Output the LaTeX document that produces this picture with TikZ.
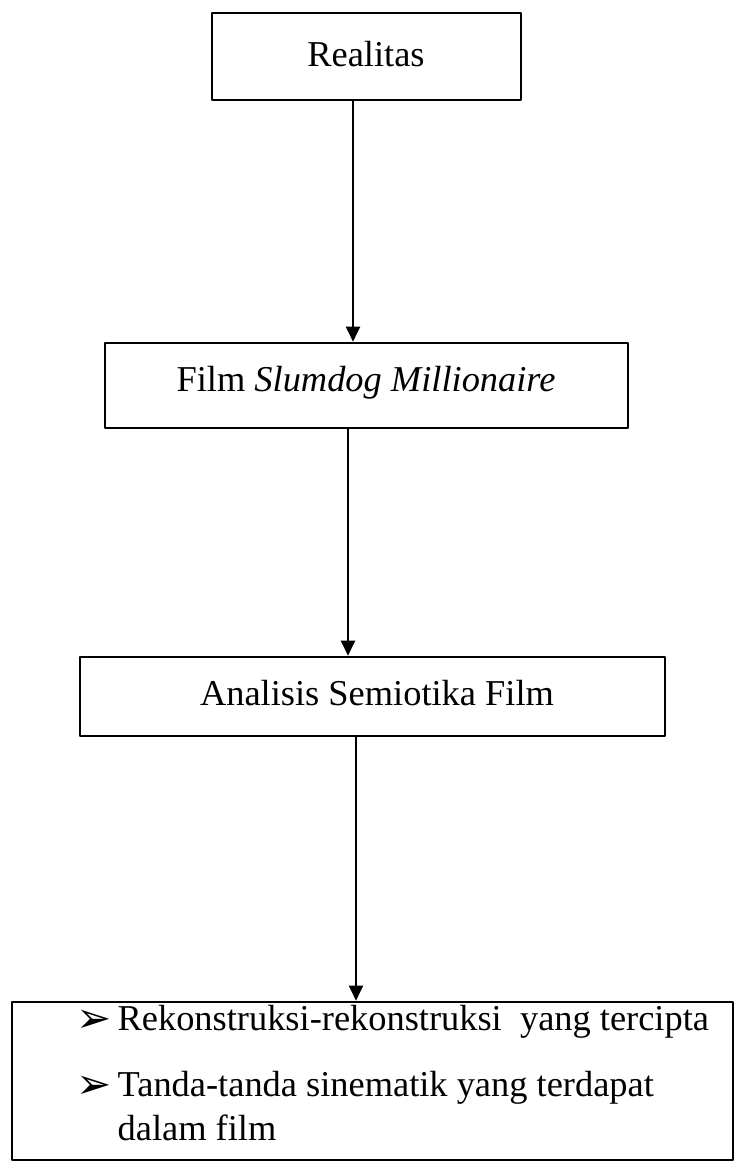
\documentclass[tikz,border=0pt]{standalone}
\usepackage{fontspec}
\setmainfont{Liberation Serif}
\newfontfamily\symfont{DejaVu Sans}
\usetikzlibrary{arrows.meta}

\newcommand{\bul}{\raisebox{-1pt}{\symfont\fontsize{21}{21}\selectfont ➢}}

\begin{document}
\begin{tikzpicture}[
				x=0.5pt, y=-0.5pt,
				line cap=round,
				line join=round,
				every node/.style={font=\fontsize{18.2}{24}\selectfont},
				box/.style={draw, line width=1.3pt, inner sep=0pt},
				panah/.style={line width=1pt, -{Triangle[length=7.5pt,width=7pt]}}
				]
				\useasboundingbox (0,0) rectangle (735,1163);
				
				% Boxes
				\node[box, minimum width=154.5pt, minimum height=43.5pt] (realitas) at (366.5,56.5) {};
				\node[box, minimum width=261.5pt, minimum height=42.5pt] (film) at (366.5,385.5) {};
				\node[box, minimum width=292.5pt, minimum height=39.5pt] (analisis) at (372.5,696.5) {};
				\node[box, minimum width=360.5pt, minimum height=79pt] (hasil) at (372.5,1081) {};
				
				% Box texts
				\node (tRealitas) at (366,54) {Realitas};
				\node (tFilm) at (366,383) {Film \textit{Slumdog Millionaire}};
				\node (tAnalisis) at (377,693) {Analisis Semiotika Film};
				\node[anchor=west, inner sep=0pt] (butir1) at (76,1022)
					{\bul\,Rekonstruksi-rekonstruksi\ \ yang tercipta};
				\node[anchor=north west, inner sep=0pt, align=left] (butir2) at (76,1062)
					{\begin{tabular}{@{}l@{\,}l@{}}
						\bul & Tanda-tanda sinematik yang terdapat\\[-2pt]
						& dalam film
					\end{tabular}};
				
				% Arrows
				\draw[panah] (realitas.south -| 353,0) -- (film.north -| 353,0);
				\draw[panah] (film.south -| 348,0) -- (analisis.north -| 348,0);
				\draw[panah] (analisis.south -| 356,0) -- (hasil.north -| 356,0);
			\end{tikzpicture}
\end{document}
